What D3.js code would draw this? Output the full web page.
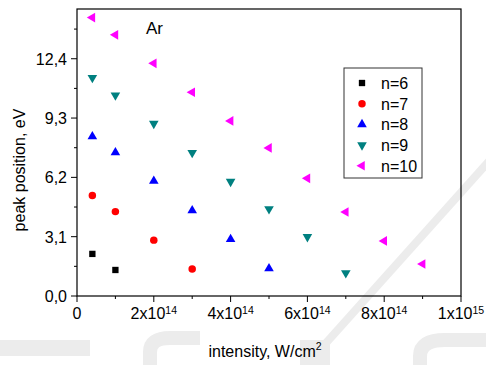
<!DOCTYPE html>
<html>
<head>
<meta charset="utf-8">
<script src="https://cdn.jsdelivr.net/npm/d3@7"></script>
<style>
  body { margin: 0; background: #fff; }
  svg { display: block; font-family: "Liberation Sans", Arial, sans-serif; }
</style>
</head>
<body>
<svg id="chart" width="486" height="365"></svg>
<script>
// intensities in units of 1e14 W/cm^2, peak positions in eV
const series = ['n=6', 'n=7', 'n=8', 'n=9', 'n=10'];
const colors = ['#000000', '#ff0000', '#0000ff', '#008080', '#ff00ff'];
const shapes = ['square', 'circle', 'up', 'down', 'left'];

const xN6 = [0.4, 1];
const yN6 = [2.2, 1.36];
const xN7 = [0.4, 1, 2, 3];
const yN7 = [5.25, 4.41, 2.92, 1.41];
const xN8 = [0.4, 1, 2, 3, 4, 5];
const yN8 = [8.34, 7.5, 6.01, 4.47, 2.97, 1.44];
const xN9 = [0.4, 1, 2, 3, 4, 5, 6, 7];
const yN9 = [11.41, 10.49, 9.01, 7.49, 5.98, 4.55, 3.09, 1.2];
const xN10 = [0.4, 1, 2, 3, 4, 5, 6, 7, 8, 9];
const yN10 = [14.55, 13.65, 12.16, 10.65, 9.15, 7.74, 6.15, 4.39, 2.88, 1.67];

const yTicks = [0, 3.1, 6.2, 9.3, 12.4];
const yMinor = [1.55, 4.65, 7.75, 10.85, 13.95];
const xTicks = [0, 2, 4, 6, 8, 10];
const xMinor = [1, 3, 5, 7, 9];

const data = [[xN6, yN6], [xN7, yN7], [xN8, yN8], [xN9, yN9], [xN10, yN10]];

const svg = d3.select('#chart');

// faint background watermark
const wm = svg.append('g').attr('fill', '#ececec').attr('stroke', '#ececec');
wm.append('rect').attr('x', 0).attr('y', 340).attr('width', 90).attr('height', 16).attr('stroke', 'none');
wm.append('path').attr('d', 'M150,365 L150,352 Q150,338 170,338 L200,338').attr('fill', 'none').attr('stroke-width', 14);
wm.append('line').attr('x1', 300).attr('y1', 372).attr('x2', 490).attr('y2', 160).attr('stroke-width', 8);
wm.append('rect').attr('x', 300).attr('y', 340).attr('width', 30).attr('height', 25).attr('stroke', 'none');
wm.append('path').attr('d', 'M420,365 L420,356 Q420,340 445,340 L486,340').attr('fill', 'none').attr('stroke-width', 14);

const x = d3.scaleLinear().domain([0, 10]).range([77, 461]);
const y = d3.scaleLinear().domain([0, 15]).range([296, 9]);

// y axis ticks
const yAxis = svg.append('g');
yAxis.selectAll('line.major').data(yTicks).join('line')
  .attr('x1', 71).attr('x2', 77)
  .attr('y1', d => y(d)).attr('y2', d => y(d))
  .attr('stroke', '#000');
yAxis.selectAll('line.minor').data(yMinor).join('line')
  .attr('class', 'minor')
  .attr('x1', 74).attr('x2', 77)
  .attr('y1', d => y(d)).attr('y2', d => y(d))
  .attr('stroke', '#000');
yAxis.selectAll('text').data(yTicks).join('text')
  .attr('x', 67).attr('y', d => y(d) + 6)
  .attr('text-anchor', 'end')
  .attr('font-size', 16)
  .text(d => d.toFixed(1).replace('.', ','));

// x axis ticks
const xAxis = svg.append('g');
xAxis.selectAll('line.major').data(xTicks).join('line')
  .attr('y1', 296).attr('y2', 302)
  .attr('x1', d => x(d)).attr('x2', d => x(d))
  .attr('stroke', '#000');
xAxis.selectAll('line.minor').data(xMinor).join('line')
  .attr('class', 'minor')
  .attr('y1', 296).attr('y2', 299)
  .attr('x1', d => x(d)).attr('x2', d => x(d))
  .attr('stroke', '#000');
const xt = xAxis.selectAll('text').data(xTicks).join('text')
  .attr('x', d => x(d)).attr('y', 319)
  .attr('text-anchor', 'middle')
  .attr('font-size', 16);
xt.each(function(d) {
  const t = d3.select(this);
  if (d === 0) { t.text('0'); return; }
  const m = d === 10 ? 1 : d;
  const e = d === 10 ? 15 : 14;
  t.append('tspan').text(m + 'x10');
  t.append('tspan').attr('font-size', 10.5).attr('dy', -5).text(e);
});

// frame
svg.append('rect')
  .attr('x', 77).attr('y', 9)
  .attr('width', 384).attr('height', 287)
  .attr('fill', 'none').attr('stroke', '#000').attr('stroke-width', 1.2);

// markers
function markerPath(shape) {
  if (shape === 'square') return d3.symbol(d3.symbolSquare, 40)();
  if (shape === 'circle') return d3.symbol(d3.symbolCircle, 44)();
  return d3.symbol(d3.symbolTriangle, 40)();
}
function markerRot(shape) {
  if (shape === 'down') return 180;
  if (shape === 'left') return -90;
  return 0;
}

data.forEach((s, i) => {
  const pts = s[0].map((v, j) => [v, s[1][j]]);
  svg.append('g').selectAll('path').data(pts).join('path')
    .attr('d', markerPath(shapes[i]))
    .attr('fill', colors[i])
    .attr('transform', d => `translate(${x(d[0])},${y(d[1])}) rotate(${markerRot(shapes[i])})`);
});

// "Ar" label
svg.append('text').attr('x', 146).attr('y', 34).attr('font-size', 17).text('Ar');

// legend
const lg = svg.append('g');
lg.append('rect').attr('x', 344).attr('y', 68).attr('width', 78).attr('height', 110)
  .attr('fill', '#fff').attr('stroke', '#333').attr('stroke-width', 1);
series.forEach((name, i) => {
  const cy = 83 + i * 20.7;
  lg.append('path')
    .attr('d', markerPath(shapes[i]))
    .attr('fill', colors[i])
    .attr('transform', `translate(362,${cy}) rotate(${markerRot(shapes[i])})`);
  lg.append('text').attr('x', 381).attr('y', cy + 6).attr('font-size', 16).text(name);
});

// axis titles
svg.append('text')
  .attr('transform', 'translate(25,170) rotate(-90)')
  .attr('text-anchor', 'middle').attr('font-size', 16)
  .text('peak position, eV');
const xl = svg.append('text').attr('x', 265).attr('y', 357).attr('text-anchor', 'middle').attr('font-size', 16);
xl.append('tspan').text('intensity, W/cm');
xl.append('tspan').attr('font-size', 10.5).attr('dy', -7).text('2');
</script>
</body>
</html>
